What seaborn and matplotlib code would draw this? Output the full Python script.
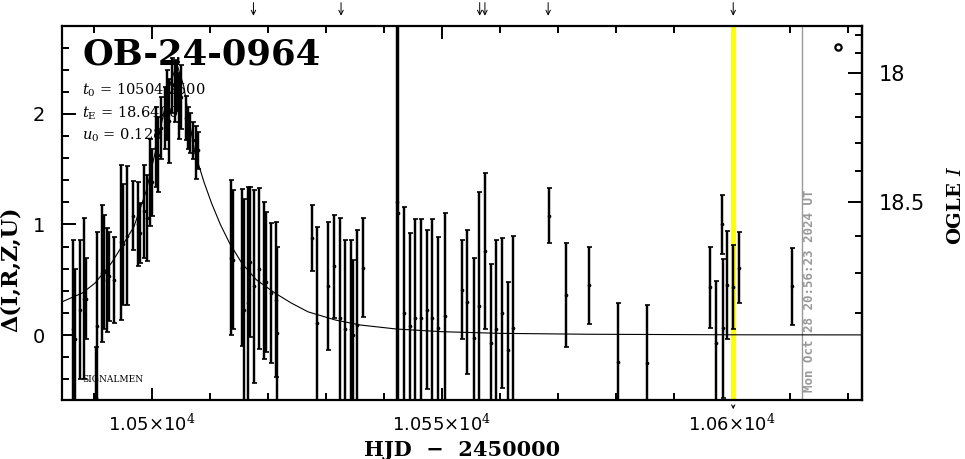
import numpy as np
import pandas as pd
import matplotlib
matplotlib.use("Agg")
import matplotlib.pyplot as plt
import seaborn as sns
from matplotlib.ticker import FixedLocator, NullFormatter, FixedFormatter

# ---------------- data ----------------
hjd = [10486.4, 10486.7, 10487.6, 10488.3, 10488.6, 10490.3, 10490.5, 10491.4, 10491.7, 10492.2,
       10492.6, 10493.4, 10494.7, 10495.0, 10495.7, 10496.7, 10497.6, 10497.9, 10498.6, 10499.1,
       10499.7, 10500.0, 10500.7, 10501.0, 10501.6, 10502.2, 10502.6, 10502.9, 10503.4, 10504.0,
       10504.3, 10504.7, 10505.0, 10505.9, 10506.2, 10506.6, 10507.1, 10507.6, 10507.9,
       10513.6, 10514.0, 10515.5, 10515.9, 10516.6, 10516.9, 10517.6, 10518.4, 10519.3, 10519.7,
       10520.5, 10521.6, 10521.4,
       10527.6, 10528.4, 10530.3, 10531.4, 10532.4, 10533.3, 10534.3, 10534.7, 10535.3, 10536.4,
       10542.3, 10542.5, 10543.4, 10544.5, 10545.3, 10546.4, 10547.4, 10548.3, 10549.3, 10550.5,
       10553.4, 10554.3, 10555.5, 10556.4, 10557.4, 10558.4, 10559.3, 10560.3, 10561.4, 10562.2,
       10568.4, 10571.4, 10575.3, 10580.3, 10585.3,
       10596.2, 10597.2, 10598.3, 10598.4, 10599.1, 10600.2, 10601.2, 10610.3]
delta = [0.05, -0.04, 0.23, 0.33, 0.33, -0.57, 0.08, 0.56, 0.57, 0.50,
         0.53, 0.50, 0.84, 0.82, 0.90, 1.08, 1.00, 0.92, 1.12, 1.06,
         1.38, 1.38, 1.70, 1.63, 1.87, 1.96, 2.08, 1.94, 2.26, 2.21,
         2.25, 2.07, 2.15, 1.96, 1.87, 1.83, 1.76, 1.65, 1.67,
         0.70, 0.68, 0.61, 0.23, 0.29, 0.66, 0.44, 0.60, 0.49, 0.48,
         0.38, 0.02, 0.32,
         0.88, 0.11, 0.44, 0.62, 0.15, 0.05, 0.05, 0.00, 0.09, 0.61,
         1.20, 1.10, 0.20, 0.08, 0.15, 0.15, 0.23, 0.15, 0.06, 0.17,
         0.41, 0.30, -0.03, 0.26, 0.76, -0.07, 0.05, 0.20, -0.14, 0.06,
         1.08, 0.36, 0.45, -0.24, -0.25,
         0.43, -0.07, 1.00, 0.06, 0.45, 0.43, 0.61, 0.44]
err = [0.81, 0.64, 0.63, 0.73, 0.37, 0.46, 0.85, 0.62, 0.52, 0.47,
       0.40, 0.39, 0.70, 0.55, 0.63, 0.31, 0.38, 0.27, 0.42, 0.39,
       0.39, 0.30, 0.36, 0.34, 0.28, 0.28, 0.32, 0.38, 0.25, 0.28,
       0.22, 0.30, 0.29, 0.20, 0.19, 0.18, 0.17, 0.24, 0.17,
       0.70, 0.63, 0.71, 1.00, 1.05, 0.68, 0.87, 0.73, 0.71, 0.63,
       0.63, 0.78, 0.70,
       0.30, 0.87, 0.58, 0.47, 0.91, 0.81, 0.81, 0.68, 0.86, 0.45,
       2.50, 2.50, 0.96, 0.84, 0.90, 0.90, 0.72, 0.90, 0.83, 0.93,
       0.45, 0.65, 0.73, 1.03, 0.71, 0.71, 0.81, 0.68, 0.62, 0.84,
       0.25, 0.47, 0.35, 0.53, 0.52,
       0.37, 0.56, 0.27, 0.63, 0.49, 0.38, 0.32, 0.35]

model_hjd = [10484.5, 10488.0, 10490.2, 10493.0, 10494.8, 10496.9, 10499.0, 10501.0, 10503.0,
             10504.3, 10505.5, 10506.5, 10507.4, 10509.0, 10510.3, 10511.8, 10513.4, 10515.5,
             10518.0, 10521.2, 10524.0, 10526.9, 10531.6, 10536.0, 10542.2, 10550.0, 10560.0,
             10575.0, 10600.0, 10622.4]
model_delta = [0.30, 0.38, 0.47, 0.65, 0.80, 0.98, 1.30, 1.75, 2.25,
               2.45, 2.25, 1.92, 1.65, 1.38, 1.19, 1.00, 0.83, 0.65,
               0.50, 0.38, 0.29, 0.21, 0.136, 0.09, 0.054, 0.03, 0.015,
               0.007, 0.002, 0.001]

event_name = "OB-24-0964"
param_lines = [r"$t_0$ = 10504.2500", r"$t_{\rm E}$ = 18.6400", r"$u_0$ = 0.128"]
xtick_values = [10500, 10550, 10600]
xtick_labels = [r"1.05$\times$10$^4$", r"1.055$\times$10$^4$", r"1.06$\times$10$^4$"]
ytick_values = [0, 1, 2]
mag_ticks = [18.0, 18.5]
mag_labels = ["18", "18.5"]
mag_minor = [17.8, 17.9, 18.1, 18.2, 18.3, 18.4, 18.6, 18.7, 18.8]
arrow_hjd = [10517.5, 10532.6, 10556.5, 10557.4, 10568.3, 10600.2]
highlight_hjd = 10600.2
now_hjd = 10612.1
now_label = "Mon Oct 28 20:56:23 2024 UT"

# magnitude <-> delta calibration of the right axis
MAG_A, MAG_B, MAG_REF = 4.374, 2.0, 18.0


def delta_to_mag(d):
    d = np.asarray(d, dtype=float)
    return MAG_REF + 2.5 * np.log10(np.clip((MAG_A - d) / MAG_B, 1e-6, None))


def mag_to_delta(m):
    m = np.asarray(m, dtype=float)
    return MAG_A - MAG_B * 10 ** (0.4 * (m - MAG_REF))


# ---------------- figure ----------------
sns.set_theme(style="ticks")
plt.rcParams["font.family"] = ["DejaVu Serif"]
plt.rcParams["mathtext.fontset"] = "dejavuserif"
for key in ["text.color", "axes.labelcolor", "xtick.color", "ytick.color", "axes.edgecolor"]:
    plt.rcParams[key] = "black"

fig = plt.figure(figsize=(9.65, 4.59), dpi=100)
ax = fig.add_axes([62 / 965, 1 - 400 / 459, 800 / 965, 374 / 459])

df = pd.DataFrame({"hjd": hjd, "delta": delta, "err": err})
mdf = pd.DataFrame({"hjd": model_hjd, "delta": model_delta})

# highlight and "now" lines
ax.axvline(highlight_hjd, color="#ffff00", lw=3.8, zorder=1)
ax.axvline(now_hjd, color="#999999", lw=1.0, zorder=1)

# model curve
sns.lineplot(data=mdf, x="hjd", y="delta", ax=ax, color="black", lw=0.8, zorder=2, sort=False)

# data
ax.errorbar(df["hjd"], df["delta"], yerr=df["err"], fmt="none", ecolor="black",
            elinewidth=1.75, capsize=1.8, capthick=1.2, zorder=4)
sns.scatterplot(data=df, x="hjd", y="delta", ax=ax, color="black", s=7, linewidth=0, zorder=5)

# legend-like open circle
ax.plot([10618.3], [2.61], marker="o", ms=4.5, mfc="white", mec="black", mew=1.6, ls="none", zorder=5)

ax.set_xlim(10484.5, 10622.4)
ax.set_ylim(-0.588, 2.796)

# ticks
ax.xaxis.set_major_locator(FixedLocator(xtick_values))
ax.xaxis.set_major_formatter(FixedFormatter(xtick_labels))
ax.xaxis.set_minor_locator(FixedLocator(np.arange(10490, 10621, 10)))
ax.yaxis.set_major_locator(FixedLocator(ytick_values))
ax.yaxis.set_minor_locator(FixedLocator(np.round(np.arange(-0.4, 2.81, 0.2), 2)))
ax.tick_params(axis="x", which="both", direction="in", top=True, bottom=True, width=1.4,
               labelsize=13, pad=10)
ax.tick_params(axis="x", which="major", length=9)
ax.tick_params(axis="x", which="minor", length=5)
ax.tick_params(axis="y", which="both", direction="in", left=True, right=False, width=1.4,
               labelsize=14, pad=12)
ax.tick_params(axis="y", which="major", length=10)
ax.tick_params(axis="y", which="minor", length=5)
for lab in ax.get_xticklabels() + ax.get_yticklabels():
    lab.set_fontfamily("DejaVu Sans")

for s in ax.spines.values():
    s.set_linewidth(1.6)
    s.set_color("black")

ax.set_xlabel("HJD  \u2212  2450000", fontsize=15, fontweight="bold")
ax.xaxis.set_label_coords(0.5, -0.108)
ax.set_ylabel("\u0394(I,R,Z,U)", fontsize=16, fontweight="bold")
ax.yaxis.set_label_coords(-0.05, 0.35)

# right magnitude axis
sec = ax.secondary_yaxis("right", functions=(delta_to_mag, mag_to_delta))
sec.yaxis.set_major_locator(FixedLocator(mag_ticks))
sec.yaxis.set_major_formatter(FixedFormatter(mag_labels))
sec.yaxis.set_minor_locator(FixedLocator(mag_minor))
sec.yaxis.set_minor_formatter(NullFormatter())
sec.tick_params(which="both", direction="in", width=1.4, labelsize=15, pad=12)
sec.tick_params(which="major", length=10)
sec.tick_params(which="minor", length=5)
for lab in sec.get_yticklabels():
    lab.set_fontfamily("DejaVu Sans")
sec.spines["right"].set_linewidth(1.6)
ax.text(1.1175, 0.52, "OGLE $I$", transform=ax.transAxes, rotation=90, ha="center",
        va="center", fontsize=14, fontweight="bold")

# texts (drawn beneath the data)
ax.text(0.025, 0.925, event_name, transform=ax.transAxes, fontsize=25.5, fontweight="bold",
        va="center", ha="left", zorder=0)
for i, line in enumerate(param_lines):
    ax.text(0.025, 0.827 - i * 0.06, line, transform=ax.transAxes, fontsize=10.5,
            va="center", ha="left", zorder=0)
ax.text(0.025, 0.055, "SIGNALMEN", transform=ax.transAxes, fontsize=6.5, va="center",
        ha="left", zorder=0)
ax.text(now_hjd + 1.2, -0.52, now_label, rotation=90, ha="center", va="bottom",
        fontsize=9, fontweight="bold", color="#999999", family="DejaVu Sans Mono", zorder=1)

# arrows above the plot
for d in arrow_hjd:
    ax.annotate("", xy=(d, 1.02), xytext=(d, 1.07), xycoords=("data", "axes fraction"),
                textcoords=("data", "axes fraction"),
                arrowprops=dict(arrowstyle="->", lw=0.7, color="black", mutation_scale=8),
                annotation_clip=False)
ax.annotate("", xy=(highlight_hjd, -0.032), xytext=(highlight_hjd, -0.008),
            xycoords=("data", "axes fraction"), textcoords=("data", "axes fraction"),
            arrowprops=dict(arrowstyle="->", lw=0.7, color="black", mutation_scale=6),
            annotation_clip=False)

fig.savefig("out.png", dpi=100, facecolor="white")
